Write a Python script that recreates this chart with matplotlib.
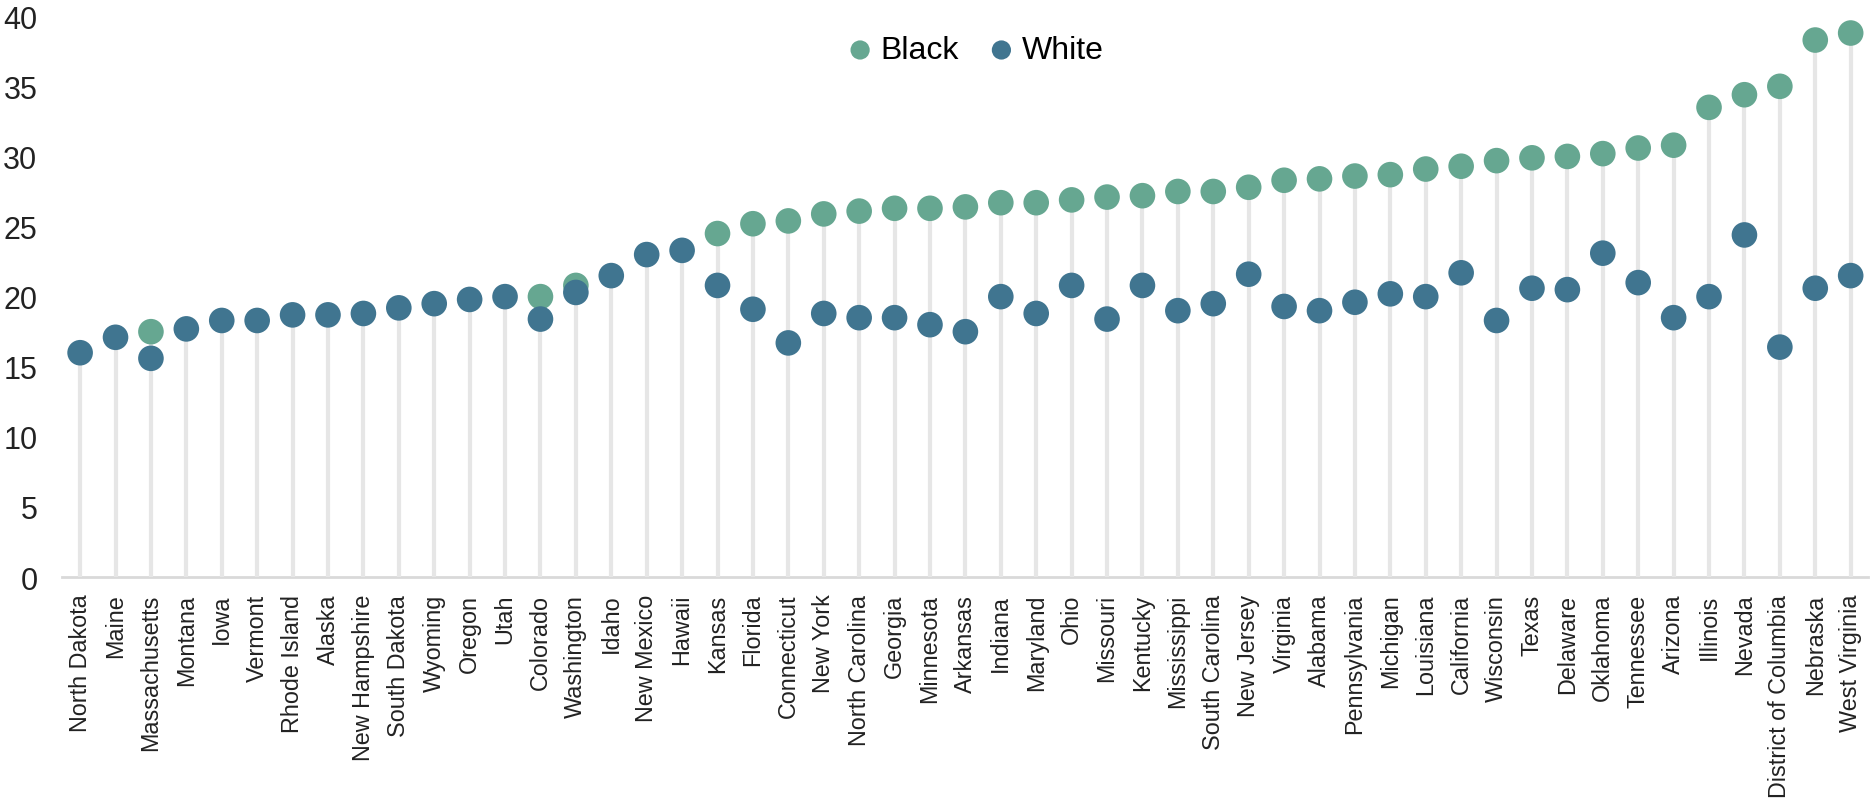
import numpy as np
import matplotlib
matplotlib.use("Agg")
import matplotlib.pyplot as plt

plt.rcParams['font.family'] = ['Liberation Sans', 'DejaVu Sans']

states = ["North Dakota", "Maine", "Massachusetts", "Montana", "Iowa", "Vermont",
          "Rhode Island", "Alaska", "New Hampshire", "South Dakota", "Wyoming",
          "Oregon", "Utah", "Colorado", "Washington", "Idaho", "New Mexico",
          "Hawaii", "Kansas", "Florida", "Connecticut", "New York",
          "North Carolina", "Georgia", "Minnesota", "Arkansas", "Indiana",
          "Maryland", "Ohio", "Missouri", "Kentucky", "Mississippi",
          "South Carolina", "New Jersey", "Virginia", "Alabama", "Pennsylvania",
          "Michigan", "Louisiana", "California", "Wisconsin", "Texas",
          "Delaware", "Oklahoma", "Tennessee", "Arizona", "Illinois", "Nevada",
          "District of Columbia", "Nebraska", "West Virginia"]

# None = no value shown for that state
black = [None, None, 17.5, None, None, None,
         None, None, None, None, None,
         None, None, 20.0, 20.8, None, None,
         None, 24.5, 25.2, 25.4, 25.9,
         26.1, 26.3, 26.3, 26.4, 26.7,
         26.7, 26.9, 27.1, 27.2, 27.5,
         27.5, 27.8, 28.3, 28.4, 28.6,
         28.7, 29.1, 29.3, 29.7, 29.9,
         30.0, 30.2, 30.6, 30.8, 33.5, 34.4,
         35.0, 38.3, 38.8]

white = [16.0, 17.1, 15.6, 17.7, 18.3, 18.3,
         18.7, 18.7, 18.8, 19.2, 19.5,
         19.8, 20.0, 18.4, 20.3, 21.5, 23.0,
         23.3, 20.8, 19.1, 16.7, 18.8,
         18.5, 18.5, 18.0, 17.5, 20.0,
         18.8, 20.8, 18.4, 20.8, 19.0,
         19.5, 21.6, 19.3, 19.0, 19.6,
         20.2, 20.0, 21.7, 18.3, 20.6,
         20.5, 23.1, 21.0, 18.5, 20.0, 24.4,
         16.4, 20.6, 21.5]

yticks = [0, 5, 10, 15, 20, 25, 30, 35, 40]

green = "#66a791"
blue = "#407590"

x = np.arange(len(states))
b = np.array([np.nan if v is None else v for v in black])
w = np.array(white)
top = np.fmax(b, w)

fig = plt.figure(figsize=(18.74, 8.04), dpi=100)
ax = fig.add_axes([0.0333, 0.281, 0.9637, 0.6976])

ax.vlines(x, 0, top, color="#e6e6e6", lw=3, zorder=1)
ax.scatter(x, b, s=340, color=green, zorder=2, label="Black", edgecolors="none")
ax.scatter(x, w, s=340, color=blue, zorder=3, label="White", edgecolors="none")

ax.set_xlim(-0.5, len(states) - 0.5)
ax.set_ylim(0, 40)
ax.set_yticks(yticks)
ax.set_xticks(x)
ax.set_xticklabels(states, rotation=90, fontsize=16.8, color="#222222")
ax.tick_params(axis="y", length=0, labelsize=22, pad=18, labelcolor="#222222")
ax.tick_params(axis="x", length=0, pad=12)
for s in ["top", "right", "left"]:
    ax.spines[s].set_visible(False)
ax.spines["bottom"].set_color("#d9d9d9")
ax.spines["bottom"].set_linewidth(2)
ax.spines["bottom"].set_zorder(0)

ax.legend(loc="upper center", bbox_to_anchor=(0.5057, 1.0), ncol=2, frameon=False,
          fontsize=23, handlelength=0.8, handletextpad=0.25, columnspacing=0.92,
          markerscale=0.75, borderaxespad=0.2)

plt.savefig("out.png", dpi=100)
